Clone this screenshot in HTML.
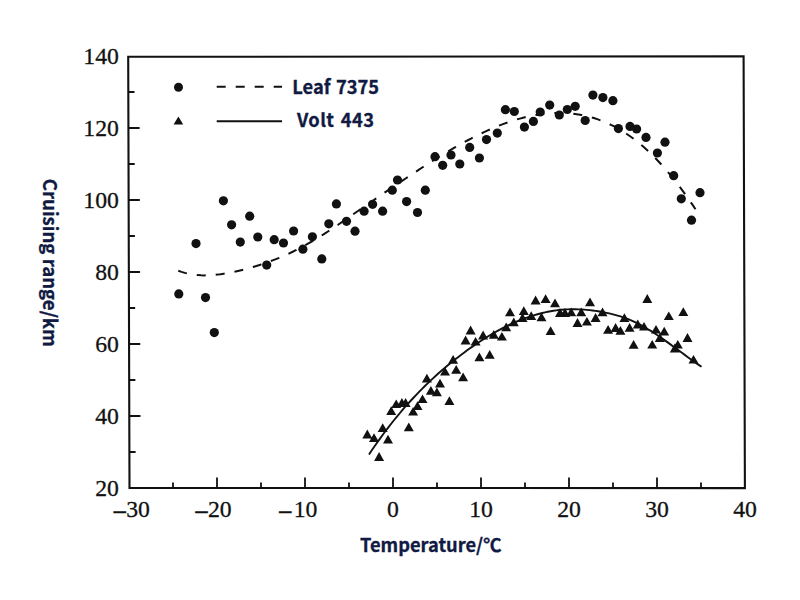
<!DOCTYPE html>
<html><head><meta charset="utf-8"><title>Cruising range vs temperature</title>
<style>html,body{margin:0;padding:0;background:#fff;} body{width:800px;height:600px;overflow:hidden;} svg{display:block;}</style>
</head><body><svg width="800" height="600" viewBox="0 0 800 600"><path d="M128.20,56.8 L743.60,56.4 L744.90,488.1 L129.50,487.9 Z" fill="none" stroke="#111" stroke-width="2.1" stroke-linejoin="miter"/><path d="M173.00,488 V482.4 M217.00,488 V477.6 M261.00,488 V482.4 M305.00,488 V477.6 M349.00,488 V482.4 M393.00,488 V477.6 M437.00,488 V482.4 M481.00,488 V477.6 M525.00,488 V482.4 M569.00,488 V477.6 M613.00,488 V482.4 M657.00,488 V477.6 M701.00,488 V482.4 M129.39,452.00 H135.59 M129.28,416.00 H140.48 M129.17,380.00 H135.37 M129.07,344.00 H140.27 M128.96,308.00 H135.16 M128.85,272.00 H140.05 M128.74,236.00 H134.94 M128.63,200.00 H139.83 M128.52,164.00 H134.72 M128.41,128.00 H139.61 M128.31,92.00 H134.51" stroke="#111" stroke-width="1.8" fill="none"/><g font-family="'Liberation Serif', serif" font-size="23.7" fill="#111" stroke="#111" stroke-width="0.3"><text x="118.9" y="496.20" text-anchor="end">20</text><text x="118.9" y="424.20" text-anchor="end">40</text><text x="118.9" y="352.20" text-anchor="end">60</text><text x="118.9" y="280.20" text-anchor="end">80</text><text x="118.9" y="208.20" text-anchor="end">100</text><text x="118.9" y="136.20" text-anchor="end">120</text><text x="118.9" y="64.20" text-anchor="end">140</text><text x="138.00" y="517.4" text-anchor="middle">30</text><text transform="translate(127.20,523.0) scale(1.13,1.35)" text-anchor="end">−</text><text x="219.80" y="517.4" text-anchor="middle">20</text><text transform="translate(208.90,523.0) scale(1.13,1.35)" text-anchor="end">−</text><text x="305.50" y="517.4" text-anchor="middle">10</text><text transform="translate(292.50,523.0) scale(1.13,1.35)" text-anchor="end">−</text><text x="393.00" y="517.4" text-anchor="middle">0</text><text x="481.00" y="517.4" text-anchor="middle">10</text><text x="569.00" y="517.4" text-anchor="middle">20</text><text x="657.00" y="517.4" text-anchor="middle">30</text><text x="745.00" y="517.4" text-anchor="middle">40</text></g><path d="M178.30,270.71 L181.55,271.89 L184.81,272.87 L188.06,273.67 L191.31,274.31 L194.56,274.79 L197.82,275.12 L201.07,275.31 L204.32,275.38 L207.58,275.34 L210.83,275.19 L214.08,274.94 L217.33,274.62 L220.59,274.22 L223.84,273.74 L227.09,273.21 L230.35,272.61 L233.60,271.95 L236.85,271.24 L240.10,270.48 L243.36,269.67 L246.61,268.82 L249.86,267.93 L253.12,266.99 L256.37,266.01 L259.62,264.99 L262.87,263.91 L266.13,262.79 L269.38,261.62 L272.63,260.41 L275.88,259.14 L279.14,257.82 L282.39,256.45 L285.64,255.02 L288.90,253.54 L292.15,252.01 L295.40,250.42 L298.65,248.77 L301.91,247.07 L305.16,245.30 L308.41,243.48 L311.67,241.60 L314.92,239.67 L318.17,237.69 L321.42,235.67 L324.68,233.60 L327.93,231.49 L331.18,229.36 L334.44,227.19 L337.69,224.99 L340.94,222.78 L344.19,220.55 L347.45,218.30 L350.70,216.04 L353.95,213.78 L357.21,211.51 L360.46,209.25 L363.71,206.99 L366.96,204.74 L370.22,202.49 L373.47,200.25 L376.72,198.02 L379.98,195.79 L383.23,193.57 L386.48,191.36 L389.73,189.15 L392.99,186.95 L396.24,184.76 L399.49,182.57 L402.75,180.39 L406.00,178.22 L409.25,176.06 L412.50,173.91 L415.76,171.77 L419.01,169.63 L422.26,167.52 L425.52,165.42 L428.77,163.33 L432.02,161.27 L435.27,159.22 L438.53,157.20 L441.78,155.20 L445.03,153.22 L448.28,151.28 L451.54,149.36 L454.79,147.47 L458.04,145.61 L461.30,143.79 L464.55,142.00 L467.80,140.25 L471.05,138.54 L474.31,136.87 L477.56,135.23 L480.81,133.65 L484.07,132.11 L487.32,130.61 L490.57,129.16 L493.82,127.77 L497.08,126.42 L500.33,125.13 L503.58,123.89 L506.84,122.71 L510.09,121.59 L513.34,120.53 L516.59,119.53 L519.85,118.59 L523.10,117.72 L526.35,116.91 L529.61,116.17 L532.86,115.51 L536.11,114.91 L539.36,114.39 L542.62,113.94 L545.87,113.57 L549.12,113.27 L552.38,113.06 L555.63,112.93 L558.88,112.88 L562.13,112.91 L565.39,113.03 L568.64,113.24 L571.89,113.54 L575.15,113.93 L578.40,114.42 L581.65,114.99 L584.90,115.67 L588.16,116.44 L591.41,117.32 L594.66,118.30 L597.92,119.39 L601.17,120.58 L604.42,121.88 L607.67,123.29 L610.93,124.82 L614.18,126.46 L617.43,128.22 L620.68,130.11 L623.94,132.11 L627.19,134.23 L630.44,136.49 L633.70,138.87 L636.95,141.38 L640.20,144.02 L643.45,146.80 L646.71,149.71 L649.96,152.76 L653.21,155.94 L656.47,159.26 L659.72,162.71 L662.97,166.30 L666.22,170.02 L669.48,173.86 L672.73,177.84 L675.98,181.95 L679.24,186.19 L682.49,190.55 L685.74,195.04 L688.99,199.66 L692.25,204.41 L695.50,209.27" fill="none" stroke="#111" stroke-width="2" stroke-dasharray="9 10"/><path d="M369.00,454.45 L371.79,450.30 L374.59,446.23 L377.38,442.24 L380.18,438.34 L382.97,434.52 L385.76,430.78 L388.56,427.12 L391.35,423.54 L394.15,420.03 L396.94,416.60 L399.74,413.24 L402.53,409.95 L405.32,406.74 L408.12,403.59 L410.91,400.50 L413.71,397.49 L416.50,394.53 L419.29,391.64 L422.09,388.81 L424.88,386.04 L427.68,383.33 L430.47,380.68 L433.26,378.07 L436.06,375.53 L438.85,373.03 L441.65,370.58 L444.44,368.19 L447.24,365.83 L450.03,363.53 L452.82,361.27 L455.62,359.05 L458.41,356.88 L461.21,354.74 L464.00,352.64 L466.79,350.59 L469.59,348.58 L472.38,346.61 L475.18,344.68 L477.97,342.80 L480.76,340.96 L483.56,339.17 L486.35,337.42 L489.15,335.72 L491.94,334.07 L494.74,332.46 L497.53,330.90 L500.32,329.40 L503.12,327.94 L505.91,326.53 L508.71,325.17 L511.50,323.86 L514.29,322.60 L517.09,321.40 L519.88,320.25 L522.68,319.15 L525.47,318.11 L528.26,317.12 L531.06,316.19 L533.85,315.31 L536.65,314.49 L539.44,313.73 L542.24,313.03 L545.03,312.38 L547.82,311.80 L550.62,311.27 L553.41,310.80 L556.21,310.40 L559.00,310.06 L561.79,309.77 L564.59,309.55 L567.38,309.39 L570.18,309.29 L572.97,309.25 L575.76,309.27 L578.56,309.34 L581.35,309.46 L584.15,309.64 L586.94,309.87 L589.74,310.15 L592.53,310.48 L595.32,310.86 L598.12,311.29 L600.91,311.76 L603.71,312.28 L606.50,312.84 L609.29,313.44 L612.09,314.10 L614.88,314.81 L617.68,315.59 L620.47,316.43 L623.26,317.34 L626.06,318.34 L628.85,319.42 L631.65,320.59 L634.44,321.85 L637.24,323.21 L640.03,324.65 L642.82,326.18 L645.62,327.78 L648.41,329.45 L651.21,331.18 L654.00,332.97 L656.79,334.82 L659.59,336.71 L662.38,338.64 L665.18,340.61 L667.97,342.61 L670.76,344.63 L673.56,346.67 L676.35,348.72 L679.15,350.78 L681.94,352.84 L684.74,354.89 L687.53,356.94 L690.32,358.97 L693.12,360.98 L695.91,362.96 L698.71,364.90 L701.50,366.81" fill="none" stroke="#111" stroke-width="1.9"/><g fill="#111"><circle cx="178.8" cy="293.9" r="4.6"/><circle cx="196.0" cy="243.6" r="4.6"/><circle cx="205.5" cy="297.6" r="4.6"/><circle cx="214.3" cy="332.6" r="4.6"/><circle cx="223.4" cy="200.8" r="4.6"/><circle cx="231.6" cy="224.8" r="4.6"/><circle cx="240.3" cy="242.1" r="4.6"/><circle cx="249.7" cy="216.2" r="4.6"/><circle cx="257.8" cy="237.0" r="4.6"/><circle cx="266.7" cy="265.1" r="4.6"/><circle cx="274.2" cy="239.7" r="4.6"/><circle cx="283.5" cy="243.0" r="4.6"/><circle cx="293.6" cy="231.0" r="4.6"/><circle cx="302.9" cy="249.2" r="4.6"/><circle cx="312.4" cy="236.8" r="4.6"/><circle cx="321.8" cy="258.9" r="4.6"/><circle cx="328.8" cy="223.8" r="4.6"/><circle cx="336.4" cy="203.9" r="4.6"/><circle cx="346.5" cy="221.3" r="4.6"/><circle cx="355.0" cy="231.2" r="4.6"/><circle cx="364.1" cy="211.2" r="4.6"/><circle cx="372.6" cy="204.3" r="4.6"/><circle cx="382.6" cy="211.2" r="4.6"/><circle cx="392.3" cy="190.2" r="4.6"/><circle cx="397.5" cy="180.0" r="4.6"/><circle cx="406.6" cy="201.6" r="4.6"/><circle cx="417.5" cy="212.5" r="4.6"/><circle cx="425.3" cy="190.2" r="4.6"/><circle cx="435.0" cy="156.7" r="4.6"/><circle cx="442.7" cy="165.3" r="4.6"/><circle cx="451.0" cy="155.0" r="4.6"/><circle cx="459.8" cy="164.0" r="4.6"/><circle cx="469.7" cy="147.4" r="4.6"/><circle cx="479.4" cy="158.0" r="4.6"/><circle cx="486.5" cy="139.6" r="4.6"/><circle cx="497.3" cy="133.1" r="4.6"/><circle cx="505.4" cy="109.7" r="4.6"/><circle cx="514.3" cy="111.5" r="4.6"/><circle cx="524.4" cy="127.1" r="4.6"/><circle cx="533.4" cy="121.4" r="4.6"/><circle cx="540.2" cy="112.0" r="4.6"/><circle cx="549.7" cy="105.1" r="4.6"/><circle cx="559.3" cy="115.0" r="4.6"/><circle cx="567.3" cy="109.5" r="4.6"/><circle cx="575.2" cy="106.3" r="4.6"/><circle cx="585.2" cy="120.5" r="4.6"/><circle cx="592.9" cy="95.1" r="4.6"/><circle cx="602.9" cy="97.6" r="4.6"/><circle cx="612.9" cy="100.7" r="4.6"/><circle cx="618.4" cy="128.6" r="4.6"/><circle cx="630.0" cy="126.4" r="4.6"/><circle cx="636.6" cy="129.0" r="4.6"/><circle cx="646.0" cy="137.4" r="4.6"/><circle cx="657.4" cy="153.0" r="4.6"/><circle cx="665.0" cy="142.2" r="4.6"/><circle cx="673.7" cy="175.7" r="4.6"/><circle cx="681.3" cy="198.8" r="4.6"/><circle cx="691.5" cy="220.2" r="4.6"/><circle cx="700.0" cy="192.7" r="4.6"/></g><path d="M367.3,429.6 L372.3,438.4 L362.3,438.4 Z M374.0,433.3 L379.0,442.1 L369.0,442.1 Z M382.7,423.3 L387.7,432.1 L377.7,432.1 Z M388.0,434.8 L393.0,443.6 L383.0,443.6 Z M379.1,452.1 L384.1,460.9 L374.1,460.9 Z M391.2,406.2 L396.2,415.0 L386.2,415.0 Z M396.2,399.4 L401.2,408.1 L391.2,408.1 Z M401.9,398.1 L406.9,406.9 L396.9,406.9 Z M405.6,398.1 L410.6,406.9 L400.6,406.9 Z M408.8,422.5 L413.8,431.2 L403.8,431.2 Z M413.1,406.9 L418.1,415.6 L408.1,415.6 Z M417.5,401.2 L422.5,410.0 L412.5,410.0 Z M422.5,394.4 L427.5,403.1 L417.5,403.1 Z M430.9,385.9 L435.9,394.7 L425.9,394.7 Z M436.9,387.5 L441.9,396.2 L431.9,396.2 Z M449.4,396.2 L454.4,405.0 L444.4,405.0 Z M426.9,373.8 L431.9,382.5 L421.9,382.5 Z M440.0,378.8 L445.0,387.5 L435.0,387.5 Z M445.0,366.9 L450.0,375.6 L440.0,375.6 Z M453.1,355.0 L458.1,363.8 L448.1,363.8 Z M456.2,365.0 L461.2,373.8 L451.2,373.8 Z M463.1,372.5 L468.1,381.2 L458.1,381.2 Z M479.4,352.5 L484.4,361.2 L474.4,361.2 Z M489.7,350.0 L494.7,358.8 L484.7,358.8 Z M470.6,325.6 L475.6,334.4 L465.6,334.4 Z M465.6,335.6 L470.6,344.4 L460.6,344.4 Z M475.6,336.9 L480.6,345.6 L470.6,345.6 Z M483.1,330.6 L488.1,339.4 L478.1,339.4 Z M493.8,330.0 L498.8,338.8 L488.8,338.8 Z M501.9,331.9 L506.9,340.6 L496.9,340.6 Z M506.2,322.5 L511.2,331.2 L501.2,331.2 Z M513.8,317.5 L518.8,326.2 L508.8,326.2 Z M510.0,307.5 L515.0,316.2 L505.0,316.2 Z M523.8,306.2 L528.8,315.0 L518.8,315.0 Z M522.5,313.1 L527.5,321.9 L517.5,321.9 Z M531.2,311.2 L536.2,320.0 L526.2,320.0 Z M541.5,312.5 L546.5,321.2 L536.5,321.2 Z M535.6,295.6 L540.6,304.4 L530.6,304.4 Z M545.6,294.2 L550.6,303.0 L540.6,303.0 Z M555.0,298.4 L560.0,307.2 L550.0,307.2 Z M550.6,326.2 L555.6,335.0 L545.6,335.0 Z M590.0,297.5 L595.0,306.2 L585.0,306.2 Z M560.0,308.1 L565.0,316.9 L555.0,316.9 Z M565.0,308.1 L570.0,316.9 L560.0,316.9 Z M571.2,307.5 L576.2,316.2 L566.2,316.2 Z M581.2,307.5 L586.2,316.2 L576.2,316.2 Z M577.5,318.1 L582.5,326.9 L572.5,326.9 Z M586.9,316.9 L591.9,325.6 L581.9,325.6 Z M595.6,313.1 L600.6,321.9 L590.6,321.9 Z M602.5,307.5 L607.5,316.2 L597.5,316.2 Z M608.1,325.0 L613.1,333.8 L603.1,333.8 Z M615.6,323.1 L620.6,331.9 L610.6,331.9 Z M620.4,326.0 L625.4,334.8 L615.4,334.8 Z M624.4,313.2 L629.4,322.0 L619.4,322.0 Z M629.6,322.9 L634.6,331.7 L624.6,331.7 Z M637.8,319.6 L642.8,328.4 L632.8,328.4 Z M633.6,339.9 L638.6,348.7 L628.6,348.7 Z M647.3,294.1 L652.3,302.9 L642.3,302.9 Z M668.8,311.4 L673.8,320.1 L663.8,320.1 Z M683.3,307.3 L688.3,316.1 L678.3,316.1 Z M644.0,321.9 L649.0,330.6 L639.0,330.6 Z M656.0,324.9 L661.0,333.6 L651.0,333.6 Z M664.2,326.8 L669.2,335.6 L659.2,335.6 Z M659.8,333.1 L664.8,341.9 L654.8,341.9 Z M687.5,333.1 L692.5,341.9 L682.5,341.9 Z M652.2,339.9 L657.2,348.6 L647.2,348.6 Z M677.8,339.9 L682.8,348.6 L672.8,348.6 Z M674.8,343.6 L679.8,352.4 L669.8,352.4 Z M693.5,354.9 L698.5,363.6 L688.5,363.6 Z" fill="#111"/><circle cx="178.5" cy="87.2" r="4.5" fill="#111"/><path d="M178.4,116.4 L183.2,124.6 L173.6,124.6 Z" fill="#111"/><path d="M216.7,86.8 H282" stroke="#111" stroke-width="2" stroke-dasharray="9 10"/><path d="M216.7,121.2 H282" stroke="#111" stroke-width="1.9"/><g font-family="'Noto Sans CJK KR', 'Liberation Sans', sans-serif" font-weight="700" font-size="18.3" fill="#101a42" stroke="#101a42" stroke-width="0.3"><text x="292.3" y="93.7" word-spacing="1.2">Leaf 7375</text><text x="297" y="126.7" letter-spacing="0.4" word-spacing="1.8">Volt 443</text><text x="360" y="551.9">Temperature/℃</text><text transform="translate(42.6,262.9) rotate(90)" text-anchor="middle" font-size="18.6">Cruising range/km</text></g></svg></body></html>
